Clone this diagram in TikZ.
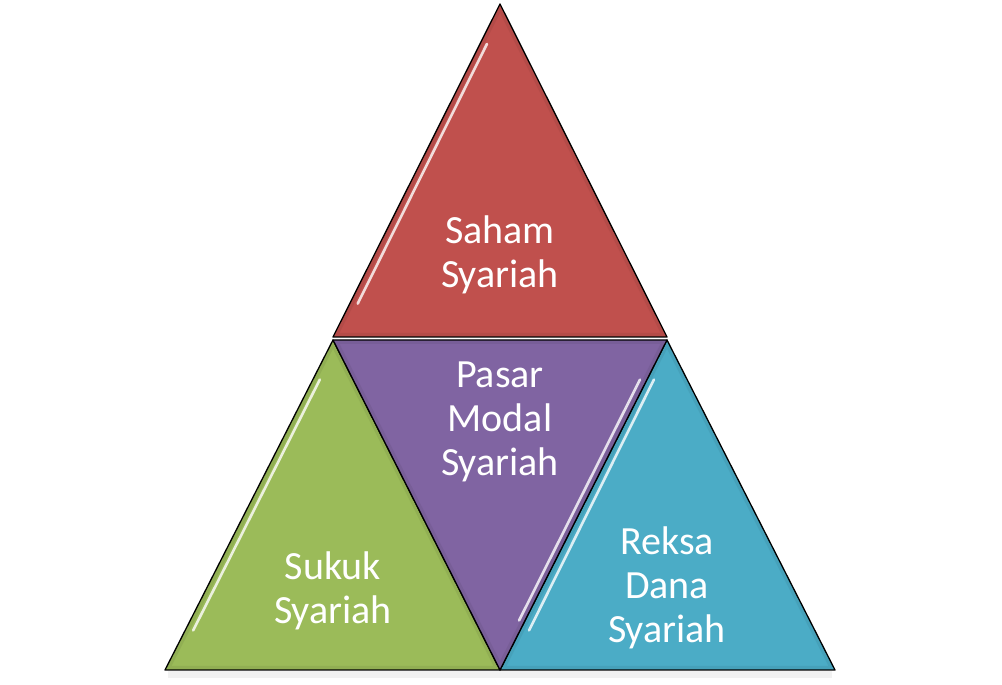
\documentclass[tikz,border=0pt]{standalone}
\usepackage{fontspec}
\setmainfont{Carlito}
\usetikzlibrary{calc}
\definecolor{sahamred}{RGB}{192,80,77}
\definecolor{sukukgreen}{RGB}{155,187,89}
\definecolor{pasarpurple}{RGB}{128,100,162}
\definecolor{reksablue}{RGB}{75,172,198}

\begin{document}
\begin{tikzpicture}[x=1pt,y=1pt,
  % bevel rim inside each piece, glossy streak along one edge
  tri/.style={draw=black,line width=1.3pt,line join=round},
  rim/.style={line width=8pt,opacity=0.2},
  gloss/.style={white,line width=2.6pt,line cap=round,opacity=0.8},
  lbl/.style={text=white,font=\fontsize{40}{44}\selectfont,align=center}]

  \useasboundingbox (0,0) rectangle (1002,685);

  % corners of the pieces
  \coordinate (apex) at (500,681);
  \coordinate (redL) at (333,348);
  \coordinate (redR) at (667,348);
  \coordinate (midL) at (333,345);
  \coordinate (midR) at (667,345);
  \coordinate (baseL) at (165,15);
  \coordinate (baseM) at (500,15);
  \coordinate (baseR) at (835,15);

  % soft shadow under the base
  \fill[black!5] (168,7) rectangle (832,14);

  % Saham Syariah
  \fill[sahamred] (apex)--(redL)--(redR)--cycle;
  \begin{scope}
    \clip (apex)--(redL)--(redR)--cycle;
    \draw[rim,sahamred!70!black] (apex)--(redL)--(redR)--cycle;
  \end{scope}
  \draw[tri] (apex)--(redL)--(redR)--cycle;
  \draw[gloss] ($(apex)!0.12!(redL)+(7,0)$)--($(apex)!0.9!(redL)+(8,0)$);

  % Sukuk Syariah
  \fill[sukukgreen] (midL)--(baseL)--(baseM)--cycle;
  \begin{scope}
    \clip (midL)--(baseL)--(baseM)--cycle;
    \draw[rim,sukukgreen!70!black] (midL)--(baseL)--(baseM)--cycle;
  \end{scope}
  \draw[tri] (midL)--(baseL)--(baseM)--cycle;
  \draw[gloss] ($(midL)!0.12!(baseL)+(7,0)$)--($(midL)!0.88!(baseL)+(8,0)$);

  % Reksa Dana Syariah
  \fill[reksablue] (midR)--(baseM)--(baseR)--cycle;
  \begin{scope}
    \clip (midR)--(baseM)--(baseR)--cycle;
    \draw[rim,reksablue!70!black] (midR)--(baseM)--(baseR)--cycle;
  \end{scope}
  \draw[tri] (midR)--(baseM)--(baseR)--cycle;
  \draw[gloss] ($(midR)!0.12!(baseM)+(7,0)$)--($(midR)!0.88!(baseM)+(9,0)$);

  % Pasar Modal Syariah
  \fill[pasarpurple] (midL)--(midR)--(baseM)--cycle;
  \begin{scope}
    \clip (midL)--(midR)--(baseM)--cycle;
    \draw[rim,pasarpurple!70!black] (midL)--(midR)--(baseM)--cycle;
  \end{scope}
  \draw[tri] (midL)--(midR)--(baseM)--cycle;
  \draw[gloss] ($(midR)!0.12!(baseM)+(-7,0)$)--($(midR)!0.85!(baseM)+(-6,0)$);

  % texts
  \node[lbl] (saham) at (500,430) {Saham\\Syariah};
  \node[lbl] (pasar) at (500,263) {Pasar\\Modal\\Syariah};
  \node[lbl] (sukuk) at (333,94) {Sukuk\\Syariah};
  \node[lbl] (reksa) at (667,97) {Reksa\\Dana\\Syariah};
\end{tikzpicture}
\end{document}
